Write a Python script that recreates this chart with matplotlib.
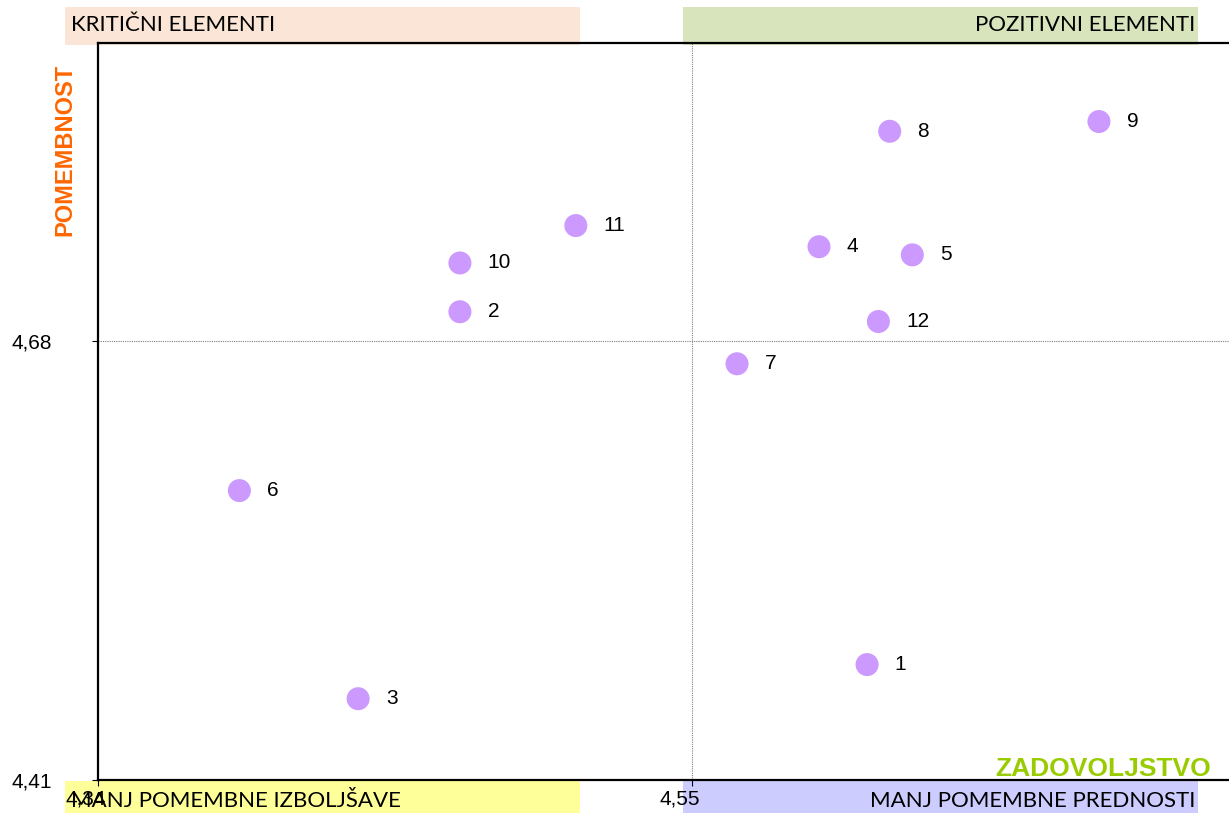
import matplotlib
matplotlib.use('Agg')
import matplotlib.pyplot as plt
import matplotlib.transforms as mtransforms
from matplotlib.patches import Rectangle

# satisfaction (x) and importance (y) per element
labels = ['1', '2', '3', '4', '5', '6', '7', '8', '9', '10', '11', '12']
zadovoljstvo = [4.612, 4.468, 4.432, 4.595, 4.628, 4.390, 4.566, 4.620, 4.694, 4.468, 4.509, 4.616]
pomembnost = [4.481, 4.698, 4.460, 4.738, 4.733, 4.588, 4.666, 4.809, 4.815, 4.728, 4.751, 4.692]

x_ticks = [4.34, 4.55]
y_ticks = [4.41, 4.68]
x_mid = 4.55
y_mid = 4.68

W, H = 1229, 813
fig = plt.figure(figsize=(W / 100, H / 100), dpi=100)

# quadrant label boxes (pixel coords converted to figure fraction)
def box(x0, x1, y0, y1, color):
    fig.patches.append(Rectangle((x0 / W, 1 - y1 / H), (x1 - x0) / W, (y1 - y0) / H,
                                 transform=fig.transFigure, facecolor=color,
                                 edgecolor='none', zorder=-5))

box(65, 580, 7, 45, '#fbe5d6')
box(683, 1198, 7, 45, '#d8e4bc')
box(65, 580, 781, 813, '#ffff99')
box(683, 1198, 781, 813, '#ccccff')

qfont = dict(family='Lato', fontsize=16, color='black', zorder=-4)
fig.text(71 / W, 1 - 25 / H, 'KRITIČNI ELEMENTI', ha='left', va='center', **qfont)
fig.text(1195 / W, 1 - 25 / H, 'POZITIVNI ELEMENTI', ha='right', va='center', **qfont)
fig.text(71 / W, 1 - 801 / H, 'MANJ POMEMBNE IZBOLJŠAVE', ha='left', va='center', **qfont)
fig.text(1195 / W, 1 - 801 / H, 'MANJ POMEMBNE PREDNOSTI', ha='right', va='center', **qfont)

ax = fig.add_axes([98 / W, 1 - 780 / H, (W - 98) / W, (780 - 43) / H])
ax.patch.set_alpha(0)

ax.scatter(zadovoljstvo, pomembnost, s=275, color='#cc99ff', edgecolors='none', zorder=3)
for x, y, t in zip(zadovoljstvo, pomembnost, labels):
    ax.annotate(t, (x, y), xytext=(20, 0), textcoords='offset points',
                ha='left', va='center', fontsize=15, family='Liberation Sans')

ax.axvline(x_mid, color='#808080', lw=0.8, ls=(0, (1, 1)), zorder=1)
ax.axhline(y_mid, color='#808080', lw=0.8, ls=(0, (1, 1)), zorder=1)

ax.set_xlim(4.34, 4.74)
ax.set_ylim(4.41, 4.8633)
ax.set_xticks(x_ticks)
ax.set_xticklabels([f'{v:.2f}'.replace('.', ',') for v in x_ticks])
ax.set_yticks(y_ticks)
ax.set_yticklabels([f'{v:.2f}'.replace('.', ',') for v in y_ticks])
ax.tick_params(direction='out', length=4, width=0.8, labelsize=15)
ax.tick_params(axis='y', pad=29)
ax.tick_params(axis='x', pad=3)
shift = mtransforms.ScaledTranslation(-12 / 100, 0, fig.dpi_scale_trans)
for lab in ax.get_xticklabels():
    lab.set_transform(lab.get_transform() + shift)
for lab in ax.get_xticklabels() + ax.get_yticklabels():
    lab.set_family('Liberation Sans')

for side in ['left', 'bottom', 'top']:
    ax.spines[side].set_linewidth(1.6)
ax.spines['right'].set_visible(False)

fig.text(65 / W, 1 - 150 / H, 'POMEMBNOST', rotation=90, ha='center', va='center',
         color='#ff6600', fontweight='bold', fontsize=17, family='Liberation Sans')
fig.text(1211 / W, 1 - 769 / H, 'ZADOVOLJSTVO', ha='right', va='center',
         color='#99cc00', fontweight='bold', fontsize=19, family='Liberation Sans')

fig.savefig('out.png', dpi=100)
